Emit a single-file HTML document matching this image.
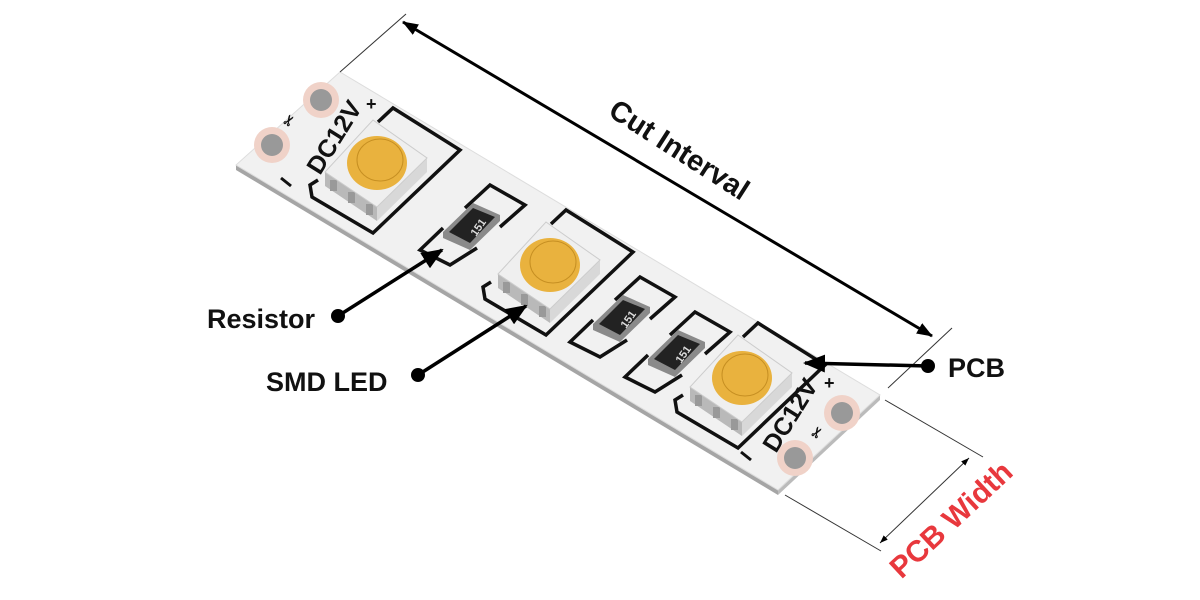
<!DOCTYPE html>
<html><head><meta charset="utf-8"><style>
html,body{margin:0;padding:0;background:#fff;}
svg{display:block;}
text{font-family:"Liberation Sans",sans-serif;font-weight:bold;}
</style></head><body>
<svg width="1200" height="600" viewBox="0 0 1200 600" xmlns="http://www.w3.org/2000/svg">
<defs>
<marker id="ahb" markerWidth="22" markerHeight="18" refX="20" refY="9" orient="auto" markerUnits="userSpaceOnUse"><path d="M0,0 L22,9 L0,18 z" fill="#000"/></marker>
<marker id="ahs" markerWidth="16" markerHeight="14" refX="15" refY="7" orient="auto-start-reverse" markerUnits="userSpaceOnUse"><path d="M0,1 L16,7 L0,13 z" fill="#000"/></marker>
<marker id="aht" markerWidth="8" markerHeight="6" refX="8" refY="3" orient="auto-start-reverse" markerUnits="userSpaceOnUse"><path d="M0,0 L8,3 L0,6 z" fill="#000"/></marker>
<g id="led">
  <polyline points="378,122 393,108 460,150 373,233 312,197 310,185 318,180" fill="none" stroke="#111" stroke-width="3.5"/>
  <polygon points="325,172 377,207 377,221 325,186" fill="#b9b9b9"/>
  <polygon points="377,207 427,158 427,172 377,221" fill="#d8d8d8"/>
  <rect x="330" y="180" width="7" height="11" fill="#999"/>
  <rect x="348" y="192" width="7" height="11" fill="#999"/>
  <rect x="366" y="204" width="7" height="11" fill="#999"/>
  <polygon points="373,120 427,158 377,207 325,172" fill="#efefef" stroke="#ccc"/>
  <ellipse cx="377" cy="163" rx="30" ry="27" fill="#e9b23e"/>
  <ellipse cx="380" cy="160" rx="23" ry="21" fill="none" stroke="#c68f22" stroke-width="1"/>
</g>
<g id="res">
  <polyline points="465,208 490,185 525,205 500,227" fill="none" stroke="#111" stroke-width="3.5"/>
  <polyline points="477,248 450,265 420,250 443,228" fill="none" stroke="#111" stroke-width="3.5"/>
  <polygon points="443,232 473,203 500,215 500,221 470,250 443,238" fill="#8a8a8a"/>
  <polygon points="449,232 473,208 495,217 470,243" fill="#222"/>
  <text x="0" y="0" font-size="11" fill="#ddd" font-weight="normal" transform="translate(476,237) rotate(-55)">151</text>
</g>
</defs>

<!-- strip -->
<polygon points="236,165 778,490 778,495 236,170" fill="#a5a5a5"/>
<polygon points="880,395 880,400 778,495 778,490" fill="#bbb"/>
<polygon points="340,72 880,395 778,490 236,165" fill="#f1f1f1" stroke="#ddd"/>

<!-- pads -->
<g>
<circle cx="321" cy="100" r="18" fill="#f0d2c8"/><circle cx="321" cy="100" r="11" fill="#999"/>
<circle cx="272" cy="145" r="18" fill="#f0d2c8"/><circle cx="272" cy="145" r="11" fill="#999"/>
<circle cx="842" cy="413" r="18" fill="#f0d2c8"/><circle cx="842" cy="413" r="11" fill="#999"/>
<circle cx="795" cy="458" r="18" fill="#f0d2c8"/><circle cx="795" cy="458" r="11" fill="#999"/>
</g>

<text x="0" y="0" font-size="25" fill="#111" transform="translate(320,176) rotate(-58)">DC12V</text>
<text x="366" y="110" font-size="18" fill="#111">+</text>
<line x1="281" y1="178" x2="291" y2="186" stroke="#111" stroke-width="3"/>
<text x="0" y="0" font-size="25" fill="#111" transform="translate(776,454) rotate(-58)">DC12V</text>
<text x="824" y="389" font-size="18" fill="#111">+</text>
<line x1="741" y1="452" x2="751" y2="460" stroke="#111" stroke-width="3"/>
<text x="0" y="0" font-size="14" fill="#111" transform="translate(290,128) rotate(-58)">✂</text>
<text x="0" y="0" font-size="14" fill="#111" transform="translate(818,440) rotate(-58)">✂</text>

<use href="#res"/>
<use href="#res" transform="translate(150,92)"/>
<use href="#res" transform="translate(205,127)"/>
<use href="#led"/>
<use href="#led" transform="translate(173,102)"/>
<use href="#led" transform="translate(365,215)"/>

<!-- cut interval -->
<line x1="340" y1="72" x2="406" y2="14" stroke="#333" stroke-width="1"/>
<line x1="888" y1="388" x2="952" y2="328" stroke="#333" stroke-width="1"/>
<line x1="403" y1="22" x2="932" y2="336" stroke="#000" stroke-width="3" marker-start="url(#ahs)" marker-end="url(#ahs)"/>
<text x="0" y="0" font-size="29" fill="#111" text-anchor="middle" transform="translate(674,158) rotate(32.7)">Cut Interval</text>

<!-- PCB width -->
<line x1="885" y1="400" x2="983" y2="457" stroke="#333" stroke-width="1"/>
<line x1="785" y1="495" x2="881" y2="551" stroke="#333" stroke-width="1"/>
<line x1="969" y1="458" x2="880" y2="543" stroke="#333" stroke-width="1" marker-start="url(#aht)" marker-end="url(#aht)"/>
<text x="0" y="0" font-size="30" fill="#e8383d" text-anchor="middle" transform="translate(958,527) rotate(-43)">PCB Width</text>

<!-- labels -->
<text x="207" y="328" font-size="27" fill="#111">Resistor</text>
<circle cx="338" cy="316" r="7" fill="#000"/>
<line x1="338" y1="316" x2="442" y2="250" stroke="#000" stroke-width="3.5" marker-end="url(#ahb)"/>
<text x="266" y="391" font-size="27" fill="#111">SMD LED</text>
<circle cx="418" cy="375" r="7" fill="#000"/>
<line x1="418" y1="375" x2="526" y2="306" stroke="#000" stroke-width="3.5" marker-end="url(#ahb)"/>
<text x="948" y="377" font-size="27" fill="#111">PCB</text>
<circle cx="928" cy="366" r="7" fill="#000"/>
<line x1="928" y1="366" x2="805" y2="363" stroke="#000" stroke-width="3.5" marker-end="url(#ahb)"/>
</svg>
</body></html>
